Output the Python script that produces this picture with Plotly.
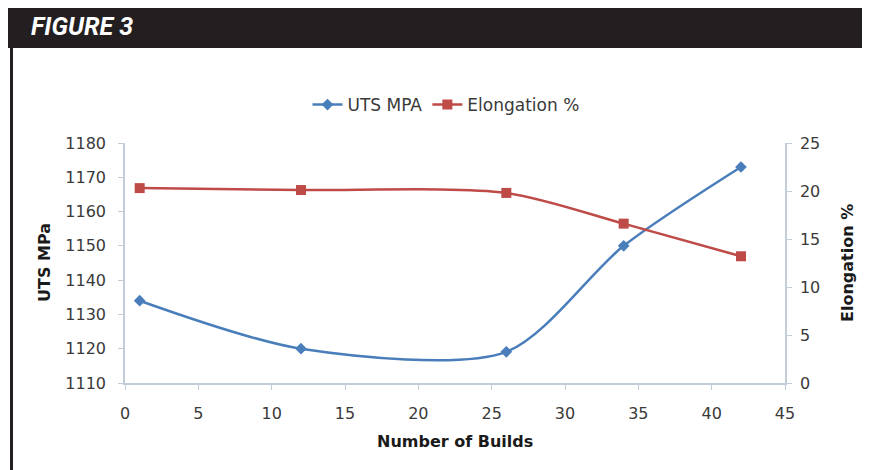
import plotly.graph_objects as go

builds = [1, 12, 26, 34, 42]
uts_mpa = [1134, 1120, 1119.1, 1150, 1173]
elongation = [20.3, 20.1, 19.8, 16.6, 13.2]

x_ticks = list(range(0, 50, 5))
y_ticks = list(range(1110, 1190, 10))
y2_ticks = list(range(0, 30, 5))

BLUE = "#4A7EBB"
RED = "#BE4B48"
AX = "#C3CCD9"
FONT = "DejaVu Sans"
TXT = "#3a3a3a"

OFF = 8  # browser body margin
W, H = 870 - OFF, 470 - OFF
L, R, T, B = 125, 785, 143, 383  # plot area in reference page pixels


def px(x):
    return (x - L) / (R - L)


def py(y):
    return (B - y) / (B - T)


fig = go.Figure()
fig.add_trace(go.Scatter(
    x=builds, y=uts_mpa, name="UTS MPA", mode="lines+markers",
    line=dict(color=BLUE, width=2.5, shape="spline", smoothing=0.8),
    marker=dict(symbol="diamond", size=9, color=BLUE),
))
fig.add_trace(go.Scatter(
    x=builds, y=elongation, name="Elongation %", mode="lines+markers", yaxis="y2",
    line=dict(color=RED, width=2.5, shape="spline", smoothing=0.8),
    marker=dict(symbol="square", size=10, color=RED),
))

tickfont = dict(family=FONT, size=16, color=TXT)
common = dict(showgrid=False, zeroline=False, showline=True, linecolor=AX, linewidth=1.5,
              ticks="outside", ticklen=5, tickcolor=AX, tickfont=tickfont)
fig.update_layout(
    width=W, height=H,
    margin=dict(l=L - OFF, r=870 - R, t=T - OFF, b=470 - B, pad=0),
    paper_bgcolor="white", plot_bgcolor="white",
    showlegend=True,
    legend=dict(orientation="h", x=px(446), xanchor="center", y=py(105), yanchor="middle",
                font=dict(family=FONT, size=17, color=TXT), bgcolor="rgba(0,0,0,0)",
                itemwidth=30, tracegroupgap=0),
    xaxis=dict(range=[0, 45], tickvals=x_ticks, ticklabelstandoff=10, **common),
    yaxis=dict(range=[1110, 1180], tickvals=y_ticks, ticklabelstandoff=9, **common),
    yaxis2=dict(range=[0, 25], tickvals=y2_ticks, overlaying="y", side="right",
                ticklabelstandoff=5, **common),
)

shapes = [
    dict(type="rect", xref="paper", yref="paper", x0=px(8), x1=px(880), y0=py(48), y1=py(0),
         fillcolor="#231F20", line=dict(width=0), layer="below"),
    dict(type="line", xref="paper", yref="paper", x0=px(11.5), x1=px(11.5), y0=py(48), y1=py(480),
         line=dict(color="#231F20", width=3)),
    dict(type="line", xref="paper", yref="paper", x0=px(866), x1=px(866), y0=py(48), y1=py(480),
         line=dict(color="#231F20", width=3)),
]
fig.update_layout(shapes=shapes)

ann = [
    dict(text="FIGURE 3", x=px(29), y=py(27), xanchor="left", yanchor="middle",
         font=dict(family="Roboto", size=25, color="white", weight="bold", style="italic")),
    dict(text="UTS MPa", x=px(44), y=py(263), textangle=-90, xanchor="center", yanchor="middle",
         font=dict(family=FONT, size=16, color="#1a1a1a", weight="bold")),
    dict(text="Elongation %", x=px(847), y=py(263), textangle=-90, xanchor="center", yanchor="middle",
         font=dict(family=FONT, size=16, color="#1a1a1a", weight="bold")),
    dict(text="Number of Builds", x=px(455), y=py(441), xanchor="center", yanchor="middle",
         font=dict(family=FONT, size=16, color="#1a1a1a", weight="bold")),
]
for a in ann:
    a.update(xref="paper", yref="paper", showarrow=False)
fig.update_layout(annotations=ann)

fig.write_html("out.html")
